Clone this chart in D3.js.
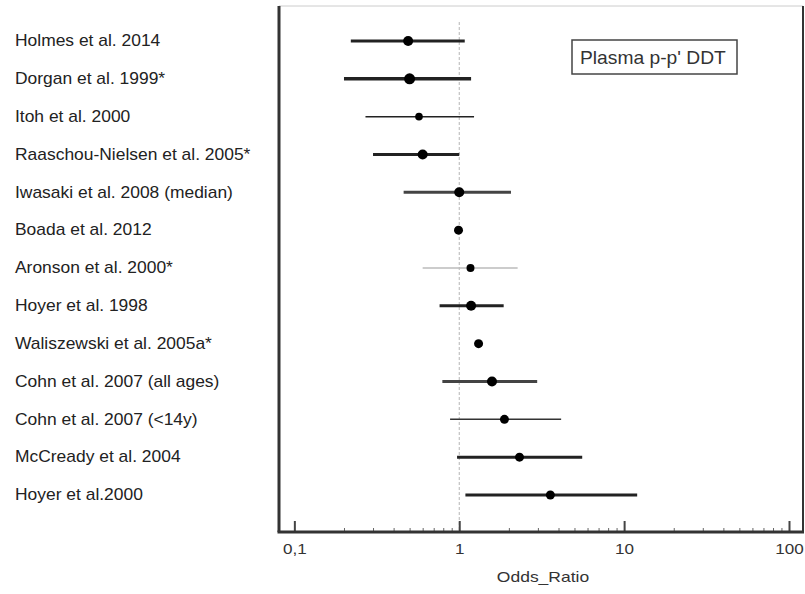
<!DOCTYPE html>
<html>
<head>
<meta charset="utf-8">
<script src="https://cdn.jsdelivr.net/npm/d3@7/dist/d3.min.js"></script>
<style>
  html, body { margin: 0; padding: 0; background: #fff; }
  svg { display: block; font-family: "Liberation Sans", Arial, sans-serif; }
</style>
</head>
<body>
<svg id="chart" width="805" height="594"></svg>
<script>
// ---- data ----
const studies = [
  "Holmes et al. 2014",
  "Dorgan et al. 1999*",
  "Itoh et al. 2000",
  "Raaschou-Nielsen et al. 2005*",
  "Iwasaki et al. 2008 (median)",
  "Boada et al. 2012",
  "Aronson et al. 2000*",
  "Hoyer et al. 1998",
  "Waliszewski et al. 2005a*",
  "Cohn et al. 2007 (all ages)",
  "Cohn et al. 2007 (<14y)",
  "McCready et al. 2004",
  "Hoyer et al.2000"
];
const oddsRatio = [0.49, 0.50, 0.57, 0.60, 1.00, 0.99, 1.17, 1.18, 1.31, 1.58, 1.88, 2.32, 3.57];
const ciLower   = [0.22, 0.20, 0.27, 0.30, 0.46, null, 0.60, 0.76, null, 0.79, 0.88, 0.97, 1.09];
const ciUpper   = [1.08, 1.18, 1.23, 1.00, 2.06, null, 2.26, 1.86, null, 2.97, 4.15, 5.57, 12.0];
const majorTicks = [0.1, 1, 10, 100];
const majorTickLabels = ["0,1", "1", "10", "100"];
const legendLabel = "Plasma p-p' DDT";
const xTitle = "Odds_Ratio";

// ---- style (per study) ----
const lineWidth = [3, 3.5, 1.5, 3, 3, 0, 1.5, 3, 0, 3, 1.5, 3, 3];
const lineColor = ["#222", "#222", "#222", "#222", "#444", "#222", "#bbb", "#222", "#222", "#444", "#333", "#222", "#222"];
const dotRadius = [5, 5.5, 3.8, 5, 5, 4.5, 4, 5, 4.5, 5, 4.5, 4.5, 4.5];

// ---- layout ----
const svg = d3.select("#chart");
const plotLeft = 279, plotRight = 803, plotTop = 6, plotBottom = 532;

const x = d3.scaleLog()
  .domain([0.0807, 121.6])
  .range([plotLeft, plotRight]);

const y = d3.scalePoint()
  .domain(studies)
  .range([41, 495]);

const rows = studies.map((s, i) => ({
  name: s, or: oddsRatio[i], lo: ciLower[i], hi: ciUpper[i],
  lw: lineWidth[i], lc: lineColor[i], r: dotRadius[i]
}));

// frame: top (light), right
svg.append("line")
  .attr("x1", plotLeft).attr("x2", plotRight)
  .attr("y1", plotTop).attr("y2", plotTop)
  .attr("stroke", "#ccc").attr("stroke-width", 1);
svg.append("line")
  .attr("x1", plotRight).attr("x2", plotRight)
  .attr("y1", plotTop).attr("y2", plotBottom)
  .attr("stroke", "#333").attr("stroke-width", 2);

// reference line at OR = 1
svg.append("line")
  .attr("x1", x(1)).attr("x2", x(1))
  .attr("y1", 22).attr("y2", plotBottom)
  .attr("stroke", "#b5b5b5").attr("stroke-width", 1)
  .attr("stroke-dasharray", "3,2");

// minor ticks
const minorVals = [];
[0.1, 1, 10].forEach(d => { for (let k = 2; k <= 9; k++) minorVals.push(d * k); });
svg.append("g")
  .attr("transform", `translate(0,${plotBottom})`)
  .call(d3.axisBottom(x).tickValues(minorVals).tickSize(-4).tickFormat(""))
  .call(g => g.select(".domain").remove())
  .call(g => g.selectAll(".tick line").attr("stroke", "#666").attr("stroke-width", 1));

// major ticks + labels
svg.append("g")
  .attr("transform", `translate(0,${plotBottom})`)
  .call(d3.axisBottom(x).tickValues(majorTicks).tickSizeInner(-11).tickSizeOuter(0)
    .tickPadding(12)
    .tickFormat((d, i) => majorTickLabels[i]))
  .call(g => g.select(".domain").remove())
  .call(g => g.selectAll(".tick line").attr("stroke", "#444").attr("stroke-width", 2))
  .call(g => g.selectAll(".tick text").attr("fill", "#333").attr("font-size", 14)
    .attr("transform", "scale(1.22,1)")
    .attr("font-family", "'Liberation Sans', Arial, sans-serif"));

// bottom axis line & left border
svg.append("line")
  .attr("x1", plotLeft - 1.5).attr("x2", plotRight + 1)
  .attr("y1", plotBottom).attr("y2", plotBottom)
  .attr("stroke", "#333").attr("stroke-width", 3);
svg.append("line")
  .attr("x1", plotLeft).attr("x2", plotLeft)
  .attr("y1", plotTop).attr("y2", plotBottom)
  .attr("stroke", "#333").attr("stroke-width", 3);

// x title
svg.append("text")
  .attr("transform", "translate(543,581.5) scale(1.25,1)")
  .attr("text-anchor", "middle")
  .attr("font-size", 14).attr("fill", "#333")
  .text(xTitle);

// study labels
svg.append("g").selectAll("text")
  .data(rows).join("text")
  .attr("transform", d => `translate(15,${y(d.name)}) scale(1.09,1)`)
  .attr("dy", "0.33em")
  .attr("font-size", 16)
  .attr("fill", "#222")
  .text(d => d.name);

// CI lines
svg.append("g").selectAll("line")
  .data(rows.filter(d => d.lo != null && d.hi != null)).join("line")
  .attr("x1", d => x(d.lo)).attr("x2", d => x(d.hi))
  .attr("y1", d => y(d.name)).attr("y2", d => y(d.name))
  .attr("stroke", d => d.lc)
  .attr("stroke-width", d => d.lw);

// point estimates
svg.append("g").selectAll("circle")
  .data(rows).join("circle")
  .attr("cx", d => x(d.or))
  .attr("cy", d => y(d.name))
  .attr("r", d => d.r)
  .attr("fill", "#000");

// legend box
const lg = svg.append("g");
lg.append("rect")
  .attr("x", 572).attr("y", 40).attr("width", 165).attr("height", 34)
  .attr("fill", "#fff").attr("stroke", "#444").attr("stroke-width", 1.5);
lg.append("text")
  .attr("transform", "translate(580,64) scale(1.1,1)")
  .attr("font-size", 17.5).attr("fill", "#333")
  .text(legendLabel);
</script>
</body>
</html>
